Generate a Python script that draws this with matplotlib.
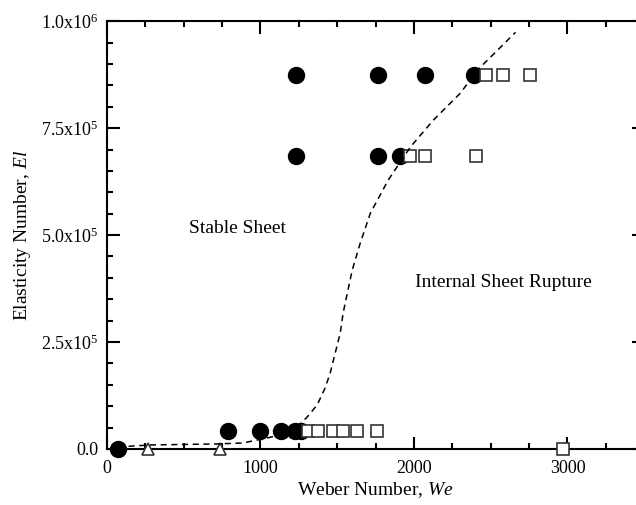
import matplotlib
matplotlib.use("Agg")
import matplotlib.pyplot as plt
from matplotlib.ticker import MultipleLocator, FixedLocator

plt.rcParams['font.family'] = ['Liberation Serif', 'DejaVu Serif']
plt.rcParams['mathtext.fontset'] = 'custom'
plt.rcParams['mathtext.rm'] = 'Liberation Serif'
plt.rcParams['mathtext.it'] = 'Liberation Serif:italic'

# stable sheet (filled circles)
stable_we = [72, 790, 998, 1135, 1226, 1265,
             1233, 1768, 1911,
             1233, 1768, 2074, 2394]
stable_el = [0, 4.2e4, 4.2e4, 4.2e4, 4.2e4, 4.2e4,
             6.85e5, 6.85e5, 6.85e5,
             8.75e5, 8.75e5, 8.75e5, 8.75e5]

# internal sheet rupture (open squares)
rupture_we = [1311, 1376, 1474, 1539, 1631, 1761, 2968,
              1977, 2074, 2407,
              2472, 2577, 2753]
rupture_el = [4.2e4, 4.2e4, 4.2e4, 4.2e4, 4.2e4, 4.2e4, 0,
              6.85e5, 6.85e5, 6.85e5,
              8.75e5, 8.75e5, 8.75e5]

# open triangles
tri_we = [267, 737]
tri_el = [0, 0]

# dashed boundary
curve_we = [72, 280, 718, 887, 1044, 1128, 1239, 1305, 1370, 1422, 1455, 1487,
            1520, 1539, 1566, 1598, 1650, 1716, 1833, 1977, 2127, 2303, 2414,
            2544, 2661]
curve_el = [4.7e3, 9.3e3, 1.17e4, 1.4e4, 2.57e4, 3.27e4, 5.14e4, 7.48e4, 1.03e5,
            1.43e5, 1.78e5, 2.24e5, 2.71e5, 3.18e5, 3.64e5, 4.18e5, 4.81e5,
            5.51e5, 6.29e5, 7.06e5, 7.69e5, 8.32e5, 8.86e5, 9.32e5, 9.74e5]

y_ticks = [0, 2.5e5, 5.0e5, 7.5e5, 1.0e6]
y_ticklabels = ['0.0', r'2.5x10$^5$', r'5.0x10$^5$', r'7.5x10$^5$', r'1.0x10$^6$']
x_ticks = [0, 1000, 2000, 3000]

fig = plt.figure(figsize=(6.36, 5.05), dpi=100)
ax = fig.add_axes([0.168, 0.111, 0.845, 0.847])

ax.plot(curve_we, curve_el, ls=(0, (4, 3)), color='black', lw=1.1, zorder=4)
ax.plot(stable_we, stable_el, 'o', color='black', ms=11.5, ls='none',
        zorder=2, clip_on=False)
ax.plot(rupture_we, rupture_el, 's', mfc='white', mec='#333333', mew=1.2,
        ms=8, ls='none', zorder=3, clip_on=False)
ax.plot(tri_we, tri_el, '^', mfc='white', mec='#333333', mew=1.2,
        ms=9, ls='none', zorder=3, clip_on=False)

ax.text(848, 5.16e5, 'Stable Sheet', fontsize=14, ha='center', va='center')
ax.text(2583, 3.88e5, 'Internal Sheet Rupture', fontsize=14, ha='center', va='center')

ax.set_xlim(0, 3500)
ax.set_ylim(0, 1.0e6)
ax.xaxis.set_major_locator(FixedLocator(x_ticks))
ax.xaxis.set_minor_locator(MultipleLocator(250))
ax.yaxis.set_major_locator(FixedLocator(y_ticks))
ax.yaxis.set_minor_locator(MultipleLocator(5e4))
ax.set_yticklabels(y_ticklabels)
ax.set_xticklabels([str(t) for t in x_ticks])

ax.tick_params(which='both', direction='in', top=True, right=True,
               labelsize=13, width=1.5)
ax.tick_params(which='major', length=9, pad=6)
ax.tick_params(axis='x', which='major', pad=8)
ax.tick_params(which='minor', length=4.5)
for s in ax.spines.values():
    s.set_linewidth(1.5)

ax.set_xlabel(r'Weber Number, $\it{We}$', fontsize=14, labelpad=2)
ax.set_ylabel(r'Elasticity Number, $\it{El}$', fontsize=14, labelpad=6)

fig.savefig('out.png', dpi=100)
